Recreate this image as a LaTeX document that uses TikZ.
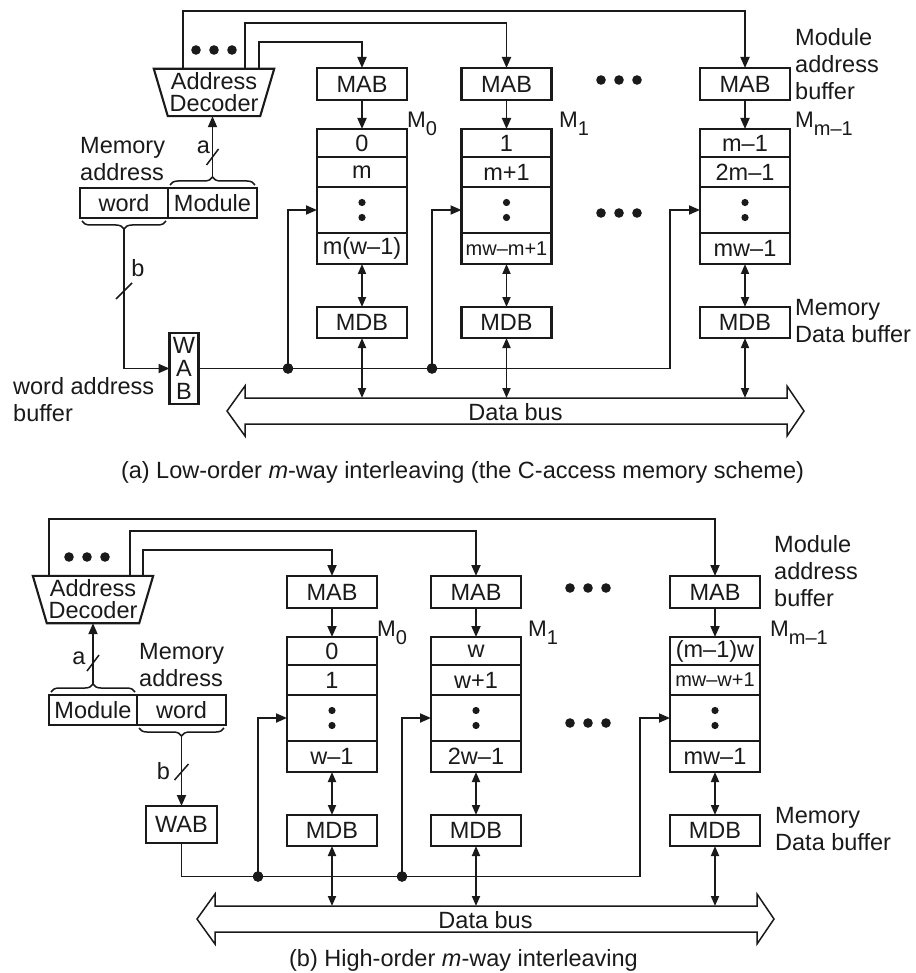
\documentclass[tikz,border=0pt]{standalone}
\usepackage{fontspec}
\setmainfont{Liberation Sans}
\usetikzlibrary{arrows.meta,calc,decorations.pathreplacing}
\definecolor{ink}{HTML}{1A1A1A}

\tikzset{
  wire/.style={draw=ink, line width=1.8pt},
  box/.style={draw=ink, line width=2.1pt, inner sep=0pt, outer sep=0pt},
  mab/.style={box, minimum width=90, minimum height=32},
  cell/.style={box, minimum width=90, anchor=north},
  arr/.style={wire, -{Triangle[length=11pt,width=9pt]}},
  darr/.style={wire, {Triangle[length=10pt,width=8pt]}-{Triangle[length=10pt,width=8pt]}},
  bracewire/.style={wire, line width=1.5pt, decorate, decoration={brace, amplitude=8pt, aspect=0.5}},
  lbl/.style={anchor=north west, align=left},
  modlabel/.style={anchor=base west, font=\fontsize{22.5}{22}\selectfont},
  dec/.style={minimum width=120, minimum height=47, align=center, font=\fontsize{23.5}{22}\selectfont},
  tick/.style={wire, line width=1.5pt},
}

% module name with lowered index
\newcommand\msub[1]{M\raisebox{-8pt}{\fontsize{20}{20}\selectfont #1}}
% three horizontal dots centred at (#1,#2)
\newcommand\hdotsrow[2]{\fill[ink] (#1-18,#2) circle (4.8) (#1,#2) circle (4.8) (#1+18,#2) circle (4.8);}
% one memory module: name, x, first, second, last word, label x, index, bus coordinate
\newcommand\memmodule[8]{%
  \node[mab] (#1mab) at (#2,84) {MAB};
  \node[cell, minimum height=28] (#1c1) at (#2,129) {#3};
  \node[cell, minimum height=30] (#1c2) at (#1c1.south) {#4};
  \node[cell, minimum height=46] (#1c3) at (#1c2.south) {};
  \node[cell, minimum height=31] (#1c4) at (#1c3.south) {#5};
  \fill[ink] ($(#1c3.center)+(0,-7.5)$) circle (3.6) ($(#1c3.center)+(0,7.5)$) circle (3.6);
  \node[mab, minimum height=31] (#1mdb) at (#2,322.5) {MDB};
  \node[modlabel] (#1lab) at (#6,128) {\msub{#7}};
  \draw[arr] (#1mab) -- (#1c1);
  \draw[darr] (#1c4) -- (#1mdb);
  \draw[darr] (#1mdb) -- (#1mdb.south |- #8);
}
% wide two-headed data bus
\newcommand\databus[1]{%
  \draw[wire, line width=1.5pt, line join=miter, fill=white]
    (227,411) -- (245,386) -- (245,398) -- (787,398) -- (787,386) -- (804,411)
    -- (787,436) -- (787,424) -- (245,424) -- (245,436) -- cycle;
  \node (#1) at (515.5,412) {Data bus};
}
% word-address distribution to the modules
\newcommand\wordlines[1]{%
  \coordinate (#1j1) at (288,368.5);
  \coordinate (#1j2) at (432,368.5);
  \coordinate (#1corner) at (670,368.5);
  \draw[arr] (#1j1) |- (#1m0c3.west);
  \draw[arr] (#1j2) |- (#1m1c3.west);
  \draw[arr] (#1corner) |- (#1mmc3.west);
  \fill[ink] (#1j1) circle (5.2) (#1j2) circle (5.2);
}

\begin{document}
\begin{tikzpicture}[x=1pt, y=-1pt, font=\fontsize{23.5}{27}\selectfont, text=ink, inner sep=0pt]
\fill[white] (0,0) rectangle (915,973);
\useasboundingbox (0,0) rectangle (915,973);

%% ---------------- (a) low-order interleaving ----------------
\begin{scope}
  \coordinate (ay1) at (0,11);
  \coordinate (ay2) at (0,23);
  \coordinate (ay3) at (0,42);
  \coordinate (abus) at (0,398);
  \memmodule{am0}{362}{0}{m}{m(w–1)}{407}{0}{abus}
  \memmodule{am1}{506.5}{1}{m+1}{{\fontsize{20}{20}\selectfont mw–m+1}}{559}{1}{abus}
  \memmodule{amm}{745}{m–1}{2m–1}{mw–1}{795}{m–1}{abus}
  \hdotsrow{619}{80}
  \hdotsrow{619}{213}
  \databus{abusnode}
  \wordlines{a}
\end{scope}

% address decoder
\node[dec] (adec) at (214,92.5) {Address\\Decoder};
\draw[box] (adec.north west) -- (adec.north east) -- ($(adec.south east)+(-14,0)$)
  -- ($(adec.south west)+(14,0)$) -- cycle;
\hdotsrow{214}{50}
\coordinate (ad1) at ($(adec.north west)+(29,0)$);
\coordinate (ad2) at ($(adec.north west)+(91,0)$);
\coordinate (ad3) at ($(adec.north west)+(105,0)$);
\draw[arr] (ad1) -- (ad1 |- ay1) -| (ammmab.north);
\draw[arr] (ad2) -- (ad2 |- ay2) -| (am1mab.north);
\draw[arr] (ad3) -- (ad3 |- ay3) -| (am0mab.north);

% memory address: word | module
\node[box, minimum width=88, minimum height=30] (aword) at (124,203) {word};
\node[box, minimum width=89, minimum height=30, anchor=west] (amod) at (aword.east) {Module};
\node[lbl] (amemaddr) at (80,137) {Memory\\address};
\draw[bracewire] ($(amod.north west)+(2,-3)$) -- ($(amod.north east)+(-2,-3)$);
\coordinate (amtip) at ($(amod.north)+(0,-11)$);
\draw[arr] (amtip) -- (amtip |- adec.south);
\draw[tick] ($(amtip)+(-6,-12)$) -- ($(amtip)+(6,-28)$);
\node (alabela) at ($(amtip)+(-9,-29.5)$) {a};
\draw[bracewire] ($(aword.south east)+(-2,3)$) -- ($(aword.south west)+(2,3)$);
\coordinate (awtip) at ($(aword.south)+(0,11)$);

% word address buffer
\node[box, minimum width=29, minimum height=71, align=center,
      font=\fontsize{23.5}{23}\selectfont] (awab) at (184,368.5) {W\\A\\B};
\draw[arr] (awtip) |- (awab.west);
\draw[tick] ($(awtip)+(-8,70)$) -- ($(awtip)+(8,54)$);
\node (alabelb) at ($(awtip)+(14,39)$) {b};
\draw[wire] (awab.east) -- (acorner);
\fill[ink] (aj1) circle (5.2) (aj2) circle (5.2);
\node[lbl] (awablab) at (13,377) {word address\\buffer};

\node[lbl] (amablab) at (795,28) {Module\\address\\buffer};
\node[lbl] (amdblab) at (795,299) {Memory\\Data buffer};

\node[anchor=base] (capa) at (462.5,478)
  {(a) Low-order \textit{m}-way interleaving (the C-access memory scheme)};

%% ---------------- (b) high-order interleaving ----------------
\begin{scope}[shift={(-30,508)}]
  \coordinate (by1) at (0,11);
  \coordinate (by2) at (0,23);
  \coordinate (by3) at (0,42);
  \coordinate (bbus) at (0,398);
  \memmodule{bm0}{362}{0}{1}{w–1}{407}{0}{bbus}
  \memmodule{bm1}{506}{w}{w+1}{2w–1}{558}{1}{bbus}
  \memmodule{bmm}{745}{(m–1)w}{{\fontsize{20}{20}\selectfont mw–w+1}}{mw–1}{800}{m–1}{bbus}
  \hdotsrow{618}{80}
  \hdotsrow{618}{215}
  \databus{bbusnode}
  \wordlines{b}
\end{scope}

% address decoder
\node[dec] (bdec) at (93,599.5) {Address\\Decoder};
\draw[box] (bdec.north west) -- (bdec.north east) -- ($(bdec.south east)+(-14,0)$)
  -- ($(bdec.south west)+(14,0)$) -- cycle;
\hdotsrow{87}{557}
\coordinate (bd1) at ($(bdec.north west)+(16,0)$);
\coordinate (bd2) at ($(bdec.north west)+(97,0)$);
\coordinate (bd3) at ($(bdec.north west)+(110,0)$);
\draw[arr] (bd1) -- (bd1 |- by1) -| (bmmmab.north);
\draw[arr] (bd2) -- (bd2 |- by2) -| (bm1mab.north);
\draw[arr] (bd3) -- (bd3 |- by3) -| (bm0mab.north);

% memory address: module | word
\node[box, minimum width=88, minimum height=30] (bmod) at (93,710) {Module};
\node[box, minimum width=89, minimum height=30, anchor=west] (bword) at (bmod.east) {word};
\node[lbl] (bmemaddr) at (139,643) {Memory\\address};
\draw[bracewire] ($(bmod.north west)+(2,-3)$) -- ($(bmod.north east)+(-2,-3)$);
\coordinate (bmtip) at ($(bmod.north)+(0,-11)$);
\draw[arr] (bmtip) -- (bmtip |- bdec.south);
\draw[tick] ($(bmtip)+(-6,-13)$) -- ($(bmtip)+(6,-29)$);
\node (blabela) at ($(bmtip)+(-14,-26)$) {a};
\draw[bracewire] ($(bword.south east)+(-2,3)$) -- ($(bword.south west)+(2,3)$);
\coordinate (bwtip) at ($(bword.south)+(0,11)$);

% word address buffer
\node[box, minimum width=71, minimum height=37] (bwab) at (bwtip |- 0,824.5) {WAB};
\draw[arr] (bwtip) -- (bwab.north);
\draw[tick] ($(bwtip)+(-7,44)$) -- ($(bwtip)+(7,28)$);
\node (blabelb) at ($(bwtip)+(-18,35.5)$) {b};
\draw[wire] (bwab.south) |- (bcorner);
\fill[ink] (bj1) circle (5.2) (bj2) circle (5.2);

\node[lbl] (bmablab) at (774,535) {Module\\address\\buffer};
\node[lbl] (bmdblab) at (775,807) {Memory\\Data buffer};

\node[anchor=base] (capb) at (463.5,966) {(b) High-order \textit{m}-way interleaving};
\end{tikzpicture}
\end{document}
